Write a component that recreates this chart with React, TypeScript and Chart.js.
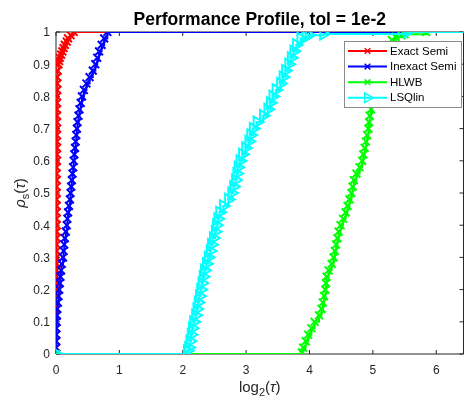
import { useEffect, useRef } from "react";
import { Chart, registerables } from "chart.js";

Chart.register(...registerables);

// Performance profile curves: [log2(tau), rho_s(tau)]
const exactSemi: [number, number][] = [
  [0, 0], [0, 0.02], [0, 0.04], [0, 0.06], [0, 0.08], [0, 0.1], [0, 0.12], [0, 0.14],
  [0.005, 0.16], [0.005, 0.18], [0.005, 0.2], [0.01, 0.22], [0.01, 0.24], [0.01, 0.26],
  [0.01, 0.28], [0.01, 0.3], [0.01, 0.32], [0.01, 0.34], [0.01, 0.36], [0.01, 0.38],
  [0.01, 0.4], [0.01, 0.42], [0.01, 0.44], [0.01, 0.46], [0.01, 0.48], [0.01, 0.5],
  [0.01, 0.52], [0.01, 0.54], [0.01, 0.56], [0.01, 0.58], [0.015, 0.6], [0.015, 0.62],
  [0.015, 0.64], [0.015, 0.66], [0.015, 0.68], [0.015, 0.7], [0.015, 0.72], [0.015, 0.74],
  [0.015, 0.76], [0.015, 0.78], [0.015, 0.8], [0.02, 0.82], [0.02, 0.84], [0.02, 0.86],
  [0.025, 0.88], [0.04, 0.9], [0.05, 0.91], [0.06, 0.92], [0.08, 0.93], [0.1, 0.94],
  [0.12, 0.95], [0.14, 0.96], [0.17, 0.97], [0.19, 0.98], [0.23, 0.99], [0.28, 1], [7, 1],
];

const inexactSemi: [number, number][] = [
  [0, 0], [0, 0.02], [0, 0.04], [0.003, 0.06], [0.005, 0.08], [0.01, 0.1], [0.015, 0.12],
  [0.02, 0.14], [0.03, 0.16], [0.04, 0.18], [0.05, 0.2], [0.06, 0.22], [0.07, 0.24],
  [0.08, 0.26], [0.09, 0.28], [0.11, 0.3], [0.12, 0.32], [0.13, 0.34], [0.14, 0.36],
  [0.155, 0.38], [0.17, 0.4], [0.18, 0.42], [0.19, 0.44], [0.205, 0.46], [0.22, 0.48],
  [0.23, 0.5], [0.24, 0.52], [0.25, 0.54], [0.26, 0.56], [0.27, 0.58], [0.28, 0.6],
  [0.29, 0.62], [0.3, 0.64], [0.31, 0.66], [0.32, 0.68], [0.33, 0.7], [0.34, 0.72],
  [0.355, 0.74], [0.37, 0.76], [0.39, 0.78], [0.41, 0.8], [0.44, 0.82], [0.48, 0.84],
  [0.53, 0.86], [0.58, 0.88], [0.62, 0.9], [0.65, 0.92], [0.68, 0.94], [0.72, 0.96],
  [0.76, 0.98], [0.81, 1], [7, 1],
];

const hlwb: [number, number][] = [
  [0, 0], [3.88, 0.005], [3.9, 0.02], [3.94, 0.04], [3.98, 0.06], [4.03, 0.08], [4.08, 0.1],
  [4.15, 0.12], [4.19, 0.14], [4.21, 0.16], [4.23, 0.18], [4.25, 0.2], [4.26, 0.22],
  [4.27, 0.24], [4.3, 0.26], [4.35, 0.28], [4.38, 0.3], [4.4, 0.32], [4.42, 0.34],
  [4.44, 0.36], [4.46, 0.38], [4.49, 0.4], [4.53, 0.42], [4.57, 0.44], [4.6, 0.46],
  [4.63, 0.48], [4.66, 0.5], [4.68, 0.52], [4.7, 0.54], [4.74, 0.56], [4.79, 0.58],
  [4.83, 0.6], [4.85, 0.62], [4.87, 0.64], [4.89, 0.66], [4.91, 0.68], [4.93, 0.7],
  [4.94, 0.72], [4.95, 0.74], [4.97, 0.76], [4.98, 0.78], [4.99, 0.8], [5.0, 0.82],
  [5.03, 0.84], [5.06, 0.86], [5.09, 0.88], [5.12, 0.9], [5.16, 0.92], [5.2, 0.94],
  [5.25, 0.96], [5.3, 0.975], [5.36, 0.985], [5.45, 0.99], [5.5, 0.993], [5.84, 1], [7, 1],
];

const lsqlin: [number, number][] = [
  [0, 0], [2.07, 0.01], [2.09, 0.02], [2.11, 0.04], [2.13, 0.06], [2.15, 0.08], [2.17, 0.1],
  [2.2, 0.12], [2.22, 0.14], [2.24, 0.16], [2.26, 0.18], [2.28, 0.2], [2.3, 0.22],
  [2.32, 0.24], [2.34, 0.26], [2.37, 0.28], [2.4, 0.3], [2.43, 0.32], [2.45, 0.34],
  [2.48, 0.36], [2.51, 0.38], [2.53, 0.4], [2.55, 0.42], [2.58, 0.44], [2.64, 0.46],
  [2.72, 0.48], [2.77, 0.5], [2.8, 0.52], [2.83, 0.54], [2.85, 0.56], [2.87, 0.58],
  [2.9, 0.6], [2.94, 0.62], [2.99, 0.64], [3.04, 0.66], [3.07, 0.68], [3.11, 0.7],
  [3.17, 0.72], [3.27, 0.74], [3.34, 0.76], [3.38, 0.78], [3.42, 0.8], [3.47, 0.82],
  [3.54, 0.84], [3.58, 0.86], [3.62, 0.88], [3.67, 0.9], [3.71, 0.92], [3.75, 0.94],
  [3.79, 0.96], [3.86, 0.98], [3.94, 0.985], [3.99, 0.99], [4.22, 0.994], [5.54, 1], [7, 1],
];

const seriesNames = ["Exact Semi", "Inexact Semi", "HLWB", "LSQlin"];
const xTickValues = [0, 1, 2, 3, 4, 5, 6];
const yTickValues = [0, 0.1, 0.2, 0.3, 0.4, 0.5, 0.6, 0.7, 0.8, 0.9, 1];
const xLimit = 6.43;
const titleText = "Performance Profile, tol = 1e-2";

const FONT = "'Liberation Sans', Arial, Helvetica, sans-serif";
const AXIS_COLOR = "#262626";
const COLORS = ["#ff0000", "#0000ff", "#00ff00", "#00ffff"];

type Part = { text: string; font: string; dy?: number };

function partsWidth(ctx: CanvasRenderingContext2D, parts: Part[]) {
  let w = 0;
  for (const p of parts) {
    ctx.font = p.font;
    w += ctx.measureText(p.text).width;
  }
  return w;
}

// Draws a run of differently styled text pieces centred on (cx, baseline)
function drawParts(ctx: CanvasRenderingContext2D, parts: Part[], cx: number, baseline: number) {
  let x = cx - partsWidth(ctx, parts) / 2;
  ctx.textAlign = "left";
  ctx.textBaseline = "alphabetic";
  for (const p of parts) {
    ctx.font = p.font;
    ctx.fillText(p.text, x, baseline + (p.dy || 0));
    x += ctx.measureText(p.text).width;
  }
}

function drawMarker(ctx: CanvasRenderingContext2D, kind: string, x: number, y: number, color: string) {
  ctx.save();
  ctx.strokeStyle = color;
  ctx.lineWidth = 1.5;
  ctx.beginPath();
  if (kind === "tri") {
    const r = 5.5;
    for (let k = 0; k < 3; k++) {
      const a = Math.PI / 2 + (k * 2 * Math.PI) / 3;
      const px = x + Math.sin(a) * r;
      const py = y - Math.cos(a) * r;
      if (k === 0) ctx.moveTo(px, py);
      else ctx.lineTo(px, py);
    }
    ctx.closePath();
  } else {
    const d = 2.8;
    ctx.moveTo(x - d, y - d);
    ctx.lineTo(x + d, y + d);
    ctx.moveTo(x - d, y + d);
    ctx.lineTo(x + d, y - d);
  }
  ctx.stroke();
  ctx.restore();
}

const axesFrame = {
  id: "axesFrame",
  beforeDatasetsDraw(chart: any) {
    const { ctx, chartArea: a, scales } = chart;
    const sx = scales.x;
    const sy = scales.y;
    ctx.save();
    ctx.strokeStyle = AXIS_COLOR;
    ctx.lineWidth = 1;
    ctx.beginPath();
    ctx.moveTo(a.left, a.top);
    ctx.lineTo(a.left, a.bottom);
    ctx.lineTo(a.right, a.bottom);
    ctx.lineTo(a.right, a.top);
    ctx.lineTo(a.left, a.top);
    const tl = 4;
    for (const v of xTickValues) {
      const px = sx.getPixelForValue(v);
      ctx.moveTo(px, a.bottom);
      ctx.lineTo(px, a.bottom - tl);
      ctx.moveTo(px, a.top);
      ctx.lineTo(px, a.top + tl);
    }
    for (const v of yTickValues) {
      const py = sy.getPixelForValue(v);
      ctx.moveTo(a.left, py);
      ctx.lineTo(a.left + tl, py);
      ctx.moveTo(a.right, py);
      ctx.lineTo(a.right - tl, py);
    }
    ctx.stroke();
    ctx.restore();
  },
  afterDatasetsDraw(chart: any) {
    const { ctx, chartArea: a, scales } = chart;
    const sx = scales.x;
    const sy = scales.y;
    ctx.save();

    // tick labels
    ctx.fillStyle = AXIS_COLOR;
    ctx.font = `12px ${FONT}`;
    ctx.textAlign = "center";
    ctx.textBaseline = "alphabetic";
    for (const v of xTickValues) {
      ctx.fillText(String(v), sx.getPixelForValue(v), a.bottom + 20);
    }
    ctx.textAlign = "right";
    ctx.textBaseline = "middle";
    for (const v of yTickValues) {
      ctx.fillText(String(v), a.left - 6, sy.getPixelForValue(v) + 1);
    }

    // title
    ctx.fillStyle = "#000";
    ctx.font = `bold 17.5px ${FONT}`;
    ctx.textAlign = "center";
    ctx.textBaseline = "alphabetic";
    ctx.fillText(titleText, (a.left + a.right) / 2, 25);

    // x label: log_2(tau)
    ctx.fillStyle = AXIS_COLOR;
    drawParts(
      ctx,
      [
        { text: "log", font: `15px ${FONT}` },
        { text: "2", font: `11px ${FONT}`, dy: 4 },
        { text: "(", font: `15px ${FONT}` },
        { text: "τ", font: `italic 15px ${FONT}` },
        { text: ")", font: `15px ${FONT}` },
      ],
      (a.left + a.right) / 2,
      392
    );

    // y label: rho_s(tau)
    ctx.save();
    ctx.translate(25, (a.top + a.bottom) / 2);
    ctx.rotate(-Math.PI / 2);
    drawParts(
      ctx,
      [
        { text: "ρ", font: `italic 15px ${FONT}` },
        { text: "s", font: `11px ${FONT}`, dy: 4 },
        { text: "(", font: `15px ${FONT}` },
        { text: "τ", font: `italic 15px ${FONT}` },
        { text: ")", font: `15px ${FONT}` },
      ],
      0,
      0
    );
    ctx.restore();

    // legend
    const bx = 344.5;
    const by = 41.5;
    const bw = 117;
    const bh = 66;
    ctx.fillStyle = "#ffffff";
    ctx.fillRect(bx, by, bw, bh);
    ctx.strokeStyle = "#8a8a8a";
    ctx.lineWidth = 1;
    ctx.strokeRect(bx, by, bw, bh);
    ctx.font = `11.5px ${FONT}`;
    ctx.textAlign = "left";
    ctx.textBaseline = "middle";
    seriesNames.forEach((name, i) => {
      const cy = 51 + i * 15.6;
      ctx.strokeStyle = COLORS[i];
      ctx.lineWidth = 2;
      ctx.beginPath();
      ctx.moveTo(348, cy);
      ctx.lineTo(387, cy);
      ctx.stroke();
      drawMarker(ctx, i === 3 ? "tri" : "x", 367.5, cy, COLORS[i]);
      ctx.fillStyle = "#000";
      ctx.fillText(name, 390, cy + 0.5);
    });

    ctx.restore();
  },
};

function series(label: string, pts: [number, number][], color: string, order: number, tri: boolean) {
  return {
    label,
    data: pts.map(([x, y]) => ({ x, y })),
    showLine: true,
    stepped: "before" as const,
    borderColor: color,
    backgroundColor: color,
    borderWidth: 2,
    pointStyle: tri ? "triangle" : "crossRot",
    rotation: tri ? 90 : 0,
    pointRadius: tri ? 6.5 : 5.5,
    pointBorderWidth: 2,
    pointBorderColor: color,
    pointBackgroundColor: tri ? "rgba(0,0,0,0)" : color,
    order,
  };
}

export default function App() {
  const ref = useRef<HTMLCanvasElement>(null);

  useEffect(() => {
    const canvas = ref.current;
    if (!canvas) return;
    const chart = new Chart(canvas, {
      type: "scatter",
      data: {
        datasets: [
          series(seriesNames[0], exactSemi, COLORS[0], 4, false),
          series(seriesNames[1], inexactSemi, COLORS[1], 3, false),
          series(seriesNames[2], hlwb, COLORS[2], 2, false),
          series(seriesNames[3], lsqlin, COLORS[3], 1, true),
        ] as any,
      },
      options: {
        responsive: false,
        animation: false,
        devicePixelRatio: 1,
        events: [],
        layout: { padding: { left: 56, top: 32, right: 2, bottom: 47 } },
        plugins: {
          legend: { display: false },
          tooltip: { enabled: false },
          title: { display: false },
        },
        scales: {
          x: { type: "linear", min: 0, max: xLimit, display: false },
          y: { type: "linear", min: 0, max: 1, display: false },
        },
      },
      plugins: [axesFrame],
    });
    return () => chart.destroy();
  }, []);

  return (
    <div
      style={{
        position: "fixed",
        left: 0,
        top: 0,
        width: 469,
        height: 401,
        overflow: "hidden",
        background: "#ffffff",
      }}
    >
      <canvas ref={ref} width={472} height={401} style={{ display: "block", width: 472, height: 401 }} />
    </div>
  );
}
